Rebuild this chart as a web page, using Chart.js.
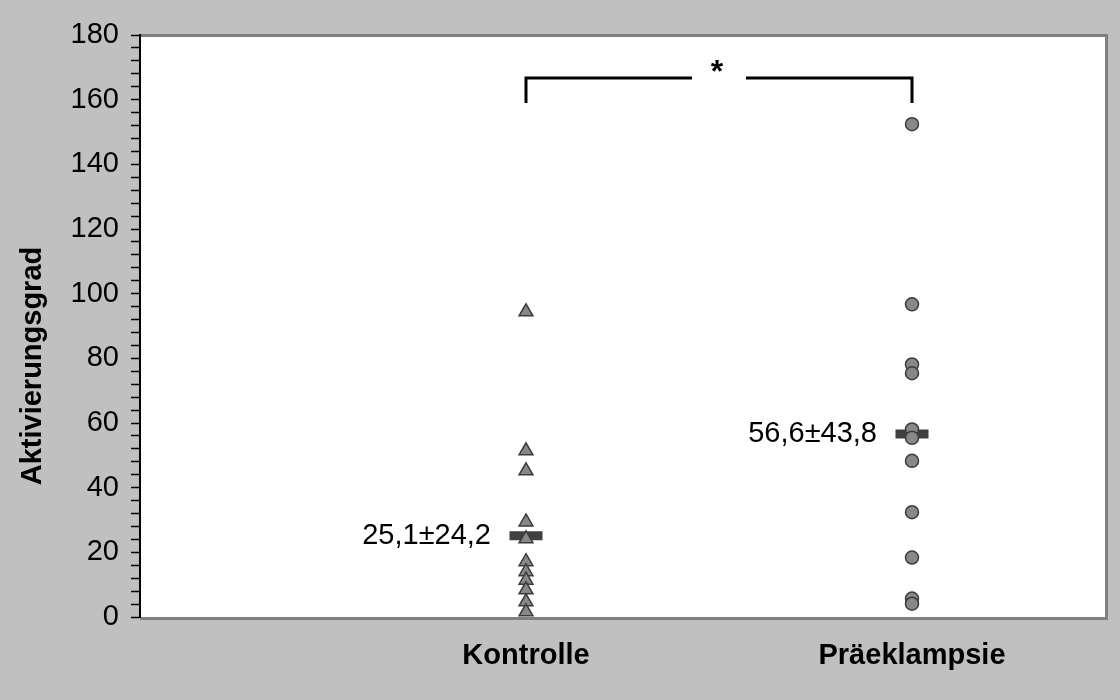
<!DOCTYPE html>
<html>
<head>
<meta charset="utf-8">
<script src="https://cdn.jsdelivr.net/npm/chart.js@4.4.1/dist/chart.umd.min.js"></script>
<style>
  body { margin: 0; background: #c0c0c0; }
  #wrap { width: 1120px; height: 700px; }
</style>
</head>
<body>
<div id="wrap"><canvas id="chart" width="1120" height="700"></canvas></div>
<script>
// data
const categories = ["Kontrolle", "Präeklampsie"];
const kontrolleValues = [94.4, 51.4, 45.2, 29.4, 24.2, 17.1, 14.0, 11.4, 8.4, 4.7, 1.6];
const praeklampsieValues = [152.4, 96.7, 78.1, 75.4, 58.0, 55.4, 48.3, 32.4, 18.4, 5.7, 4.1];
const meanValues = [25.1, 56.6];
const meanLabels = ["25,1±24,2", "56,6±43,8"];
const yMin = 0, yMax = 180, yMajorStep = 20, yMinorStep = 4;
const bracketTop = 166.7;
const bracketBottom = 159;
const bracketLabel = "*";
const yTitle = "Aktivierungsgrad";

const FONT = "'Liberation Sans', Arial, sans-serif";

const toPoints = (vals, x) => vals.map((v) => ({ x: x, y: v }));

// background, white plot area, frame, labels and the bracket
const decor = {
  id: "decor",
  beforeDraw(chart) {
    const { ctx, chartArea: a } = chart;
    ctx.save();
    ctx.fillStyle = "#c0c0c0";
    ctx.fillRect(0, 0, chart.width, chart.height);
    ctx.fillStyle = "#ffffff";
    ctx.fillRect(a.left, a.top, a.right - a.left, a.bottom - a.top);
    ctx.strokeStyle = "#808080";
    ctx.lineWidth = 3;
    ctx.beginPath();
    ctx.moveTo(a.left, a.top + 0.5);
    ctx.lineTo(a.right + 1.5, a.top + 0.5);
    ctx.lineTo(a.right + 1.5, a.bottom + 1.5);
    ctx.lineTo(a.left, a.bottom + 1.5);
    ctx.stroke();
    ctx.restore();
  },
  afterDatasetsDraw(chart) {
    const { ctx } = chart;
    const xs = chart.scales.x, ys = chart.scales.y;
    ctx.save();
    // mean labels
    ctx.fillStyle = "#000";
    ctx.font = "29px " + FONT;
    ctx.textAlign = "right";
    ctx.textBaseline = "middle";
    meanValues.forEach((m, i) => {
      ctx.fillText(meanLabels[i], xs.getPixelForValue(i + 1) - 35, ys.getPixelForValue(m));
    });
    // significance bracket
    const x1 = xs.getPixelForValue(1), x2 = xs.getPixelForValue(2);
    const xm = (x1 + x2) / 2;
    const yt = ys.getPixelForValue(bracketTop), yb = ys.getPixelForValue(bracketBottom);
    ctx.strokeStyle = "#000";
    ctx.lineWidth = 3;
    ctx.beginPath();
    ctx.moveTo(x1, yb);
    ctx.lineTo(x1, yt);
    ctx.lineTo(xm - 27, yt);
    ctx.moveTo(xm + 27, yt);
    ctx.lineTo(x2, yt);
    ctx.lineTo(x2, yb);
    ctx.stroke();
    ctx.font = "bold 32px " + FONT;
    ctx.textAlign = "center";
    ctx.fillText(bracketLabel, xm - 2, yt - 5);
    // y title
    ctx.translate(33, 366);
    ctx.rotate(-Math.PI / 2);
    ctx.font = "bold 29px " + FONT;
    ctx.fillText(yTitle, 0, 0);
    ctx.restore();
  },
};

new Chart(document.getElementById("chart"), {
  type: "scatter",
  data: {
    datasets: [
      {
        label: categories[0],
        data: toPoints(kontrolleValues, 1),
        pointStyle: "triangle",
        pointRadius: 8,
        backgroundColor: "#888888",
        borderColor: "#3c3c3c",
        borderWidth: 1.5,
        order: 1,
      },
      {
        label: categories[1],
        data: toPoints(praeklampsieValues, 2),
        pointStyle: "circle",
        pointRadius: 6.5,
        backgroundColor: "#888888",
        borderColor: "#3c3c3c",
        borderWidth: 1.5,
        order: 1,
      },
      {
        label: "Mittelwert",
        data: meanValues.map((m, i) => ({ x: i + 1, y: m })),
        pointStyle: "line",
        pointRadius: 16.5,
        borderColor: "#404040",
        backgroundColor: "#404040",
        borderWidth: 9,
        order: 2,
      },
    ],
  },
  options: {
    responsive: false,
    animation: false,
    layout: { autoPadding: false, padding: { left: 0, right: 15, top: 35, bottom: 0 } },
    plugins: {
      legend: { display: false },
      tooltip: { enabled: false },
    },
    scales: {
      x: {
        type: "linear",
        min: 0,
        max: 2.5,
        afterBuildTicks(scale) {
          scale.ticks = [{ value: 1 }, { value: 2 }];
        },
        afterFit(scale) {
          scale.height = 83;
          scale.paddingLeft = 0;
          scale.paddingRight = 0;
        },
        ticks: {
          callback: (v) => categories[v - 1],
          color: "#000",
          font: { family: FONT, size: 29, weight: "bold" },
          padding: 22,
          maxRotation: 0,
          autoSkip: false,
        },
        grid: { display: false, drawTicks: false },
        border: { display: false },
      },
      y: {
        min: yMin,
        max: yMax,
        afterFit(scale) {
          scale.width = 140;
          scale.paddingTop = 0;
          scale.paddingBottom = 0;
        },
        ticks: {
          stepSize: yMinorStep,
          autoSkip: false,
          callback: (v) => (v % yMajorStep === 0 ? v : ""),
          color: "#000",
          font: { family: FONT, size: 29 },
          padding: 12,
        },
        grid: {
          drawOnChartArea: false,
          drawTicks: true,
          tickLength: 9,
          tickColor: "#000",
          tickWidth: 1.5,
        },
        border: { display: true, color: "#000", width: 2 },
      },
    },
  },
  plugins: [decor],
});
</script>
</body>
</html>
